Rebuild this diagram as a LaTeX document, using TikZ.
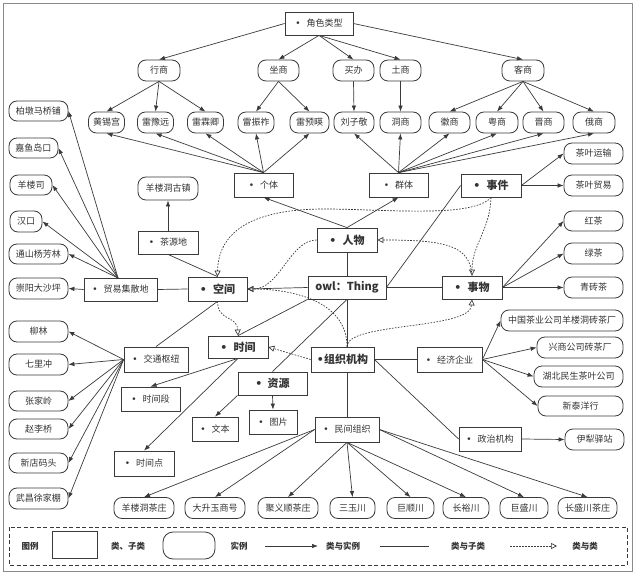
\documentclass[tikz,border=0pt]{standalone}
\usepackage{fontspec}
\setmainfont{Noto Sans CJK SC}
\newfontfamily\dejavufam{DejaVu Sans}
\newcommand{\mybul}{{\dejavufam\char"2022}}
\newcommand{\bh}{\mybul\hspace{6pt}}
\usetikzlibrary{arrows.meta}
\definecolor{lc}{HTML}{3A3A3A}
\definecolor{tc}{HTML}{333333}
\definecolor{fc}{HTML}{8A8A8A}
\begin{document}
\begin{tikzpicture}[x=1pt,y=-1pt,
  base/.style={draw=lc, line width=0.8pt, fill=white, text=tc, inner sep=0pt, font=\fontsize{9}{10}\selectfont},
  cls/.style={base, rectangle},
  inst/.style={base, rounded corners=8pt},
  key/.style={cls, font=\fontsize{11}{12}\selectfont\bfseries},
  inarr/.style={-{Latex[length=6pt,width=4.5pt]}, draw=lc, line width=0.7pt},
  sub/.style={draw=lc, line width=0.7pt},
  rel/.style={-{Triangle[open,length=6pt,width=6pt]}, draw=lc, line width=0.7pt, dash pattern=on 1.6pt off 1.4pt},
  leg/.style={text=tc, font=\fontsize{8.5}{10}\selectfont\bfseries},
  wh/.style={minimum width=#1},
]
\useasboundingbox (0,0) rectangle (637,577);
\draw[fc, line width=0.8pt] (3,3) rectangle (632,571);

% ---- top: role types
\node[cls, wh=68, minimum height=23] (role) at (319,23.5) {\bh 角色类型};
\node[inst, wh=42, minimum height=21] (xs) at (159,70.5) {行商};
\node[inst, wh=41, minimum height=21] (zs) at (278.5,70.5) {坐商};
\node[inst, wh=41, minimum height=21] (mb) at (353.5,70.5) {买办};
\node[inst, wh=41, minimum height=21] (ts) at (400.5,70.5) {土商};
\node[inst, wh=42, minimum height=21] (ks) at (523,70.5) {客商};

\node[inst, wh=36, minimum height=21] (i1) at (106.5,122.5) {黄锡宫};
\node[inst, wh=36, minimum height=21] (i2) at (155.5,122.5) {雷豫远};
\node[inst, wh=36, minimum height=21] (i3) at (205.5,122.5) {雷霖卿};
\node[inst, wh=36, minimum height=21] (i4) at (256,122.5) {雷振祚};
\node[inst, wh=39, minimum height=21] (i5) at (309.5,122.5) {雷预暎};
\node[inst, wh=40, minimum height=21] (i6) at (354,122.5) {刘子敬};
\node[inst, wh=41, minimum height=21] (i7) at (400.5,122.5) {洞商};
\node[inst, wh=41, minimum height=21] (i8) at (449.5,122.5) {徽商};
\node[inst, wh=42, minimum height=21] (i9) at (497,122.5) {粤商};
\node[inst, wh=41, minimum height=21] (i10) at (543.5,122.5) {晋商};
\node[inst, wh=42, minimum height=21] (i11) at (594,122.5) {俄商};

\draw[inarr] (role.west) -- (xs.north);
\draw[inarr] (role.south) -- (zs.north);
\draw[inarr] (role.south) -- (mb.north);
\draw[inarr] (role.south) -- (ts.north);
\draw[inarr] (role.east) -- (ks.north);
\foreach \t in {i1,i2,i3} \draw[inarr] (xs.south) -- (\t.north);
\foreach \t in {i4,i5} \draw[inarr] (zs.south) -- (\t.north);
\draw[inarr] (mb.south) -- (i6.north);
\draw[inarr] (ts.south) -- (i7.north);
\foreach \t in {i8,i9,i10,i11} \draw[inarr] (ks.south) -- (\t.north);

% ---- persons
\node[cls, wh=59, minimum height=24] (gt) at (263.5,185) {\bh 个体};
\node[cls, wh=59, minimum height=24] (qt) at (398.5,185) {\bh 群体};
\foreach \t in {i1,i2,i3,i4,i5} \draw[inarr] (gt.north) -- (\t.south);
\foreach \t in {i6,i7,i8,i9,i10,i11} \draw[inarr] (qt.north) -- (\t.south);

\node[key, wh=60, minimum height=24] (rw) at (347,240) {\bh 人物};
\node[key, wh=78, minimum height=23] (owl) at (347,287.5) {owl：Thing};
\node[key, wh=59, minimum height=24] (kj) at (217.5,289) {\bh 空间};
\node[key, wh=60, minimum height=23] (sw) at (472,287.5) {\bh 事物};
\node[key, wh=60, minimum height=23] (sj) at (491,185.5) {\bh 事件};
\node[key, wh=60, minimum height=22] (sjk) at (238,347) {\bh 时间};
\node[key, wh=63, minimum height=25] (zz) at (342.5,359.5) {\mybul 组织机构};
\node[key, wh=69, minimum height=23] (zy) at (272.5,383.5) {\mybul\hspace{5pt}资源};

\draw[inarr] (rw.north) -- (gt.south);
\draw[inarr] (rw.north) -- (qt.south);

% ---- events / things
\node[inst, wh=59, minimum height=21] (ys) at (593.5,153.5) {茶叶运输};
\node[inst, wh=59, minimum height=21] (ty) at (593.5,185.5) {茶叶贸易};
\node[inst, wh=59, minimum height=20] (hc) at (593.5,221) {红茶};
\node[inst, wh=59, minimum height=21] (lv) at (593.5,253.5) {绿茶};
\node[inst, wh=59, minimum height=21] (qz) at (593.5,287.5) {青砖茶};
\draw[inarr] (sj.east) -- (ys.west);
\draw[inarr] (sj.east) -- (ty.west);
\foreach \t in {hc,lv,qz} \draw[inarr] (sw.east) -- (\t.west);

% ---- space
\node[inst, wh=60, minimum height=23] (gz) at (168,188.5) {羊楼洞古镇};
\node[cls, wh=60, minimum height=23] (cyd) at (168,242.5) {\bh 茶源地};
\node[cls, wh=73, minimum height=23] (jsd) at (120.5,289.5) {\bh 贸易集散地};
\node[inst, wh=59, minimum height=20] (l1) at (38.5,111) {柏墩马桥铺};
\node[inst, wh=49, minimum height=20] (l2) at (33.5,148) {嘉鱼岛口};
\node[inst, wh=42, minimum height=20] (l3) at (31,185) {羊楼司};
\node[inst, wh=32, minimum height=21] (l4) at (26,221.5) {汉口};
\node[inst, wh=59, minimum height=20] (l5) at (38.5,254) {通山杨芳林};
\node[inst, wh=59, minimum height=21] (l6) at (38.5,288.5) {崇阳大沙坪};
\coordinate (jp) at (118,278);
\foreach \t in {l1,l2,l3,l4,l5} \draw[inarr] (jp) -- (\t.east);
\draw[inarr] (jsd.west) -- (l6.east);
\draw[inarr] (cyd.north) -- (gz.south);

\node[cls, wh=64, minimum height=25] (jt) at (156,359.5) {\bh 交通枢纽};
\node[inst, wh=59, minimum height=21] (m1) at (38.5,331.5) {柳林};
\node[inst, wh=59, minimum height=21] (m2) at (38.5,364.5) {七里冲};
\node[inst, wh=59, minimum height=20] (m3) at (38.5,401) {张家岭};
\node[inst, wh=59, minimum height=20] (m4) at (38.5,429) {赵李桥};
\node[inst, wh=59, minimum height=20] (m5) at (38.5,463) {新店码头};
\node[inst, wh=59, minimum height=21] (m6) at (38.5,498.5) {武昌徐家棚};
\foreach \t in {m1,m2,m3,m4,m5,m6} \draw[inarr] (jt.west) -- (\t.east);

% ---- time, resources
\node[cls, wh=59, minimum height=24] (sjd) at (150.5,399) {\bh 时间段};
\node[cls, wh=60, minimum height=25] (sjdn) at (144,463.5) {\bh 时间点};
\node[cls, wh=48, minimum height=24] (tp) at (273,422) {\bh 图片};
\node[cls, wh=46, minimum height=24] (wb) at (215,429) {\bh 文本};
\draw[inarr] (sjk.south) -- (sjd.north);
\draw[inarr] (sjk.south) -- (sjdn.north);
\draw[inarr] (zy.south west) -- (wb.north);
\draw[inarr] (zy.south) -- (tp.north);

% ---- organisations
\node[cls, wh=65, minimum height=25] (jj) at (449.5,359.5) {\bh 经济企业};
\node[inst, wh=122, minimum height=21] (c1) at (562,320.5) {中国茶业公司羊楼洞砖茶厂};
\node[inst, wh=86, minimum height=21] (c2) at (580,347.5) {兴商公司砖茶厂};
\node[inst, wh=89, minimum height=21] (c3) at (578.5,376.5) {湖北民生茶叶公司};
\node[inst, wh=85, minimum height=20] (c4) at (580.5,406) {新泰洋行};
\foreach \t in {c1,c2,c3,c4} \draw[inarr] (jj.east) -- (\t.west);
\node[cls, wh=62, minimum height=24] (zj) at (490,439) {\bh 政治机构};
\node[inst, wh=59, minimum height=21] (yl) at (594.5,439.5) {伊犁驿站};
\draw[inarr] (zj.east) -- (yl.west);

\node[cls, wh=64, minimum height=25] (mj) at (347,429.5) {\bh 民间组织};
\node[inst, wh=60, minimum height=21] (b1) at (144,508) {羊楼洞茶庄};
\node[inst, wh=60, minimum height=21] (b2) at (215,508) {大升玉商号};
\node[inst, wh=60, minimum height=21] (b3) at (288,508) {聚义顺茶庄};
\node[inst, wh=45, minimum height=21] (b4) at (352.5,508) {三玉川};
\node[inst, wh=47, minimum height=21] (b5) at (410.5,508) {巨顺川};
\node[inst, wh=46, minimum height=21] (b6) at (466,508) {长裕川};
\node[inst, wh=48, minimum height=21] (b7) at (524,508) {巨盛川};
\node[inst, wh=59, minimum height=21] (b8) at (587.5,508) {长盛川茶庄};
\foreach \t in {b1,b2} \draw[inarr] (mj.west) -- (\t.north);
\foreach \t in {b3,b4,b5,b6} \draw[inarr] (mj.south) -- (\t.north);
\foreach \t in {b7,b8} \draw[inarr] (mj.east) -- (\t.north);

% ---- class / subclass lines
\draw[sub] (owl.north) -- (rw.south);
\draw[sub] (owl.east) -- (sw.west);
\draw[sub] (owl.east) -- (sj.west);
\draw[sub] (owl.west) -- (kj.east);
\draw[sub] (owl.south west) -- (sjk.north);
\draw[sub] (owl.south) -- (zy.north);
\draw[sub] (owl.south) -- (owl.south |- zz.north);
\draw[sub] (mj.north |- zz.south) -- (mj.north);
\draw[sub] (zz.east) -- (jj.west);
\draw[sub] (zz.east) -- (zj.west);
\draw[sub] (jsd.east) -- (kj.west);
\draw[sub] (cyd.south) -- (kj.north);
\draw[sub] (jt.north) -- (kj.south);

% ---- class / class relations
\draw[rel] (sj.south) .. controls (470,222) and (350,205) .. (300,210) .. controls (240,215) and (218,240) .. (kj.north);
\draw[rel] (sj.south) .. controls (490,230) and (472,245) .. (sw.north);
\draw[rel] (sw.north) .. controls (470,245) and (445,240) .. (rw.east);
\draw[rel] (rw.west) .. controls (290,240) and (280,289) .. (kj.east);
\draw[rel] (owl.south |- zz.north) .. controls (347,300) and (290,289) .. (kj.east);
\draw[rel] (owl.south |- zz.north) .. controls (347,322) and (470,330) .. (sw.south);
\draw[rel] (zz.west) -- (sjk.east);
\draw[rel] (kj.south) .. controls (218,322) and (237,315) .. (sjk.north);

% ---- legend
\draw[lc, line width=0.7pt, dash pattern=on 4pt off 2.5pt] (9,527) rectangle (627,565);
\node[leg] (lg0) at (30,546) {图例};
\node[cls, minimum width=45, minimum height=27] (lg1) at (74.5,545) {};
\node[leg] (lg2) at (128,546) {类、子类};
\node[inst, rounded corners=10pt, minimum width=52, minimum height=27] (lg3) at (189,545.5) {};
\node[leg] (lg4) at (239,546) {实例};
\coordinate (a1) at (265,546); \coordinate (a2) at (318,546);
\draw[inarr] (a1) -- (a2);
\node[leg] (lg5) at (343,546) {类与实例};
\coordinate (a3) at (380,546); \coordinate (a4) at (429,546);
\draw[sub] (a3) -- (a4);
\node[leg] (lg6) at (468,546) {类与子类};
\coordinate (a5) at (510,546); \coordinate (a6) at (557,546);
\draw[rel] (a5) -- (a6);
\node[leg] (lg7) at (585,546) {类与类};
\end{tikzpicture}
\end{document}
